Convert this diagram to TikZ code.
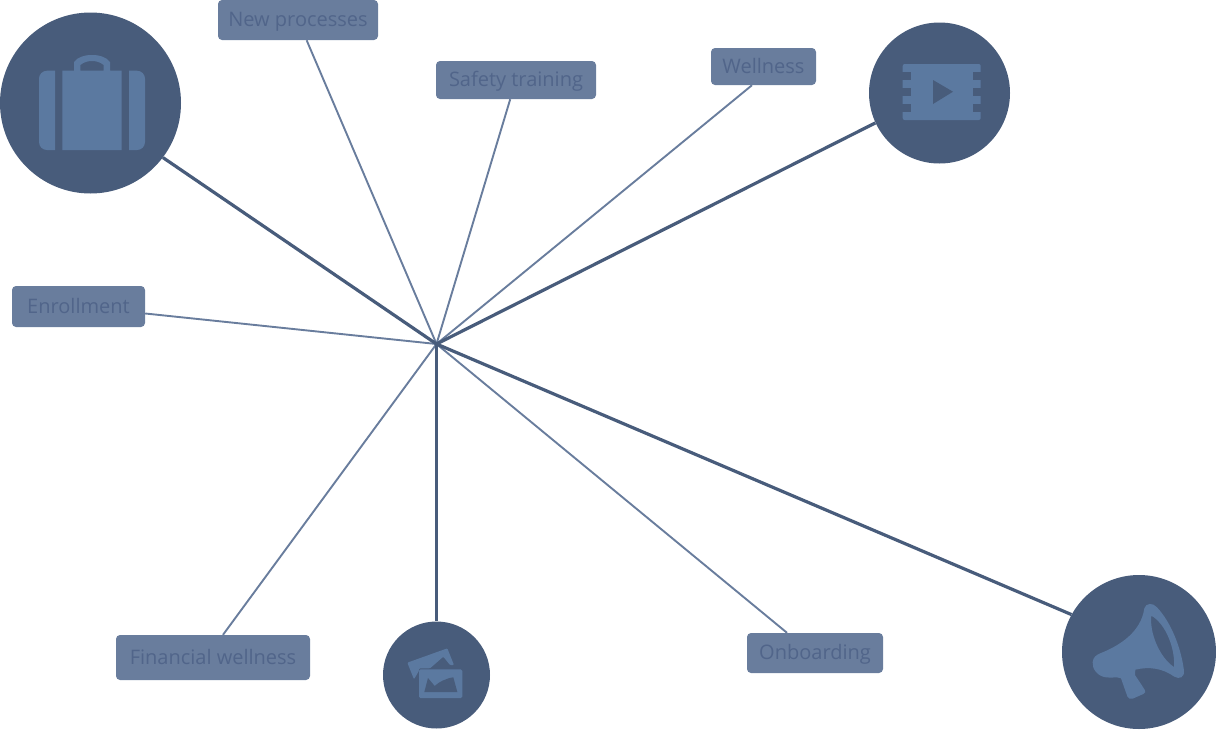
\documentclass[tikz,border=0pt]{standalone}
\usepackage{fontspec}
\setmainfont{Open Sans}
\definecolor{discdark}{HTML}{485C7B}
\definecolor{iconblue}{HTML}{5B79A0}
\definecolor{tagblue}{HTML}{697D9D}
\definecolor{tagtext}{HTML}{51658A}
\tikzset{
    tag/.style={fill=tagblue, text=tagtext, rounded corners=4pt, inner sep=0pt, text height=15pt, text depth=2pt, font=\fontsize{20pt}{24pt}\selectfont},
    disc/.style={circle, fill=discdark, inner sep=0pt},
    thinlink/.style={draw=tagblue, line width=1.9pt},
    thicklink/.style={draw=discdark, line width=3.2pt},
    icon/.style={fill=iconblue, even odd rule},
}
\begin{document}
\begin{tikzpicture}[x=1pt, y=-1pt]
    \useasboundingbox (0,0) rectangle (1216,729);
    \coordinate (hub) at (436.5,344);
    \node[tag, minimum width=160pt, minimum height=40pt] (newproc) at (298,20) {New processes};
    \node[tag, minimum width=160pt, minimum height=38pt] (safety) at (516,80) {Safety training};
    \node[tag, minimum width=105pt, minimum height=37pt] (wellness) at (763.5,66.5) {Wellness};
    \node[tag, minimum width=133pt, minimum height=41pt] (enroll) at (78.5,306.5) {Enrollment};
    \node[tag, minimum width=194pt, minimum height=45pt] (finance) at (213,657.5) {Financial wellness};
    \node[tag, minimum width=136pt, minimum height=40pt] (onboard) at (815,653) {Onboarding};
    \node[disc, minimum size=181pt] (case) at (90.5,103) {};
    \node[disc, minimum size=141pt] (video) at (939.5,93) {};
    \node[disc, minimum size=107pt] (photo) at (436.5,675) {};
    \node[disc, minimum size=154pt] (horn) at (1139,652) {};
    \draw[thinlink] (hub) -- (newproc);
    \draw[thinlink] (hub) -- (safety);
    \draw[thinlink] (hub) -- ([xshift=-11.5pt]wellness.south);
    \draw[thinlink] (hub) -- (enroll);
    \draw[thinlink] (hub) -- ([xshift=10pt]finance.north);
    \draw[thinlink] (hub) -- ([xshift=-28pt]onboard.north);
    \draw[thicklink] (hub) -- (case.-37);
    \draw[thicklink] (hub) -- (video.205);
    \draw[thicklink] (hub) -- (photo);
    \draw[thicklink] (hub) -- (horn.151);
    \fill[icon] (55,70.7) [rounded corners=8pt] -- (39,70.7) -- (39,150) [sharp corners] -- (55,150) -- cycle;
    \fill[icon] (129,70.7) [rounded corners=8pt] -- (145,70.7) -- (145,150) [sharp corners] -- (129,150) -- cycle;
    \fill[icon] (62.3,70.7) -- (74,70.7) -- (74,62) .. controls (78,57) and (84,55) .. (92,55) .. controls (100,55) and (106,57) .. (110,62) -- (110,70.7) -- (121.7,70.7) -- (121.7,150) -- (62.3,150) -- cycle
        (80.3,70.7) -- (103.7,70.7) -- (103.7,65) .. controls (100,62) and (96,61) .. (92,61) .. controls (88,61) and (84,62) .. (80.3,65) -- cycle;
    \fill[icon, rounded corners=2pt] (902.7,64) rectangle (980.7,120);
    \foreach \ny in {71.7,87.7,104} {
        \fill[discdark] (902,\ny) rectangle (911,\ny+8.3);
        \fill[discdark] (973,\ny) rectangle (981.5,\ny+8.3);
    }
    \fill[discdark] (933,80) -- (953,91.7) -- (933,104) -- cycle;
    \begin{scope}[shift={(400,640)}, x=0.3333pt, y=-0.3333pt]
        \fill[icon, rounded corners=1pt] (22,68) -- (142,25) -- (162,75) -- (150,75) -- (130,50) -- (90,85) -- (57,85) -- (57,92) -- (42,118) -- cycle;
        \fill[icon, rounded corners=1.5pt] (57,88) rectangle (187,174);
        \fill[discdark] (73,156) -- (84,114) -- (104,138) .. controls (115,127) and (140,114) .. (160,112) -- (172,156) -- cycle;
    \end{scope}
    \begin{scope}[shift={(1056,569)}, x=0.3333pt, y=-0.3333pt]
        \fill[icon] (265,118) .. controls (270,102) and (290,100) .. (303,115) .. controls (345,160) and (375,235) .. (384,305) .. controls (386,325) and (370,332) .. (355,323) .. controls (320,298) and (280,292) .. (238,302) -- (237,318) -- (266,362) .. controls (270,368) and (268,372) .. (262,375) -- (230,389) .. controls (222,392) and (217,388) .. (214,382) -- (195,328) .. controls (180,322) and (170,328) .. (150,325) .. controls (125,322) and (108,300) .. (110,280) .. controls (111,265) and (120,258) .. (135,252) .. controls (190,230) and (255,190) .. (265,118) -- cycle
            (286,140) .. controls (280,190) and (310,265) .. (354,294) .. controls (358,240) and (330,165) .. (286,140) -- cycle;
    \end{scope}
\end{tikzpicture}
\end{document}
